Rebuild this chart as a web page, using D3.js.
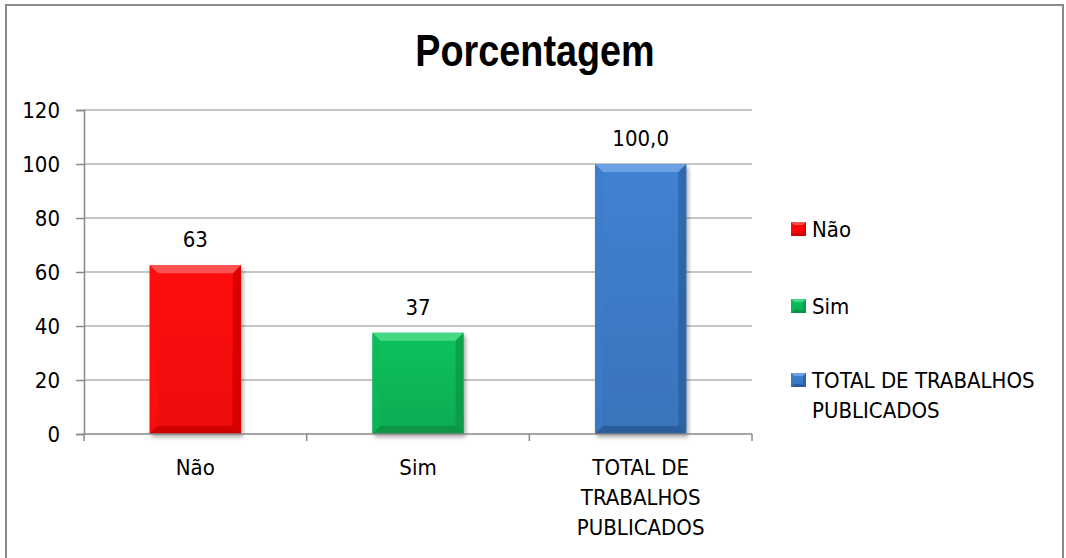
<!DOCTYPE html>
<html>
<head>
  <meta charset="utf-8">
  <script src="https://d3js.org/d3.v7.min.js"></script>
  <style>
    body { margin: 0; background: white; }
    text { font-family: "DejaVu Sans Condensed", "DejaVu Sans", sans-serif; fill: #000; }
  </style>
</head>
<body>
  <svg id="chart" width="1066" height="558"></svg>

  <script>
    // data
    const categories = ["Não", "Sim", "TOTAL DE TRABALHOS PUBLICADOS"];
    const values = [62.5, 37.5, 100];
    const valueLabels = ["63", "37", "100,0"];
    const axisLabelLines = [["Não"], ["Sim"], ["TOTAL DE", "TRABALHOS", "PUBLICADOS"]];
    const legendLines = [["Não"], ["Sim"], ["TOTAL DE TRABALHOS", "PUBLICADOS"]];
    const yTicks = [0, 20, 40, 60, 80, 100, 120];

    const colors = [
      { base: "#ff0808", light: "#ff6060", dark: "#c00000" },
      { base: "#0cb858", light: "#52dc8c", dark: "#078a3f" },
      { base: "#3d7bc8", light: "#74a8e8", dark: "#24548f" }
    ];

    const svg = d3.select("svg#chart");
    const plot = { left: 84, right: 752, top: 110, bottom: 434 };

    // outer frame
    svg.append("rect")
      .attr("x", 6).attr("y", 5)
      .attr("width", 1057).attr("height", 620)
      .attr("fill", "white")
      .attr("stroke", "#8a8a8a")
      .attr("stroke-width", 2);

    // title (narrow bold look)
    svg.append("text")
      .attr("transform", "translate(535,66) scale(0.84,1)")
      .attr("text-anchor", "middle")
      .style("font-family", '"Liberation Sans", Arial, sans-serif')
      .style("font-weight", "bold")
      .style("font-size", "45px")
      .text("Porcentagem");

    const y = d3.scaleLinear().domain([0, 120]).range([plot.bottom, plot.top]);
    const x = d3.scaleBand().domain(categories).range([plot.left, plot.right]).paddingInner(0).paddingOuter(0);
    const barW = x.bandwidth() * 0.41;

    // gridlines
    svg.append("g").selectAll("line")
      .data(yTicks.filter(t => t > 0))
      .join("line")
      .attr("x1", plot.left).attr("x2", plot.right)
      .attr("y1", d => y(d)).attr("y2", d => y(d))
      .attr("stroke", "#8c8c8c").attr("stroke-width", 1);

    // y axis
    const yAxis = d3.axisLeft(y).tickValues(yTicks).tickSize(8).tickPadding(16);
    const gy = svg.append("g").attr("transform", `translate(${plot.left},0)`).call(yAxis);
    gy.select(".domain").attr("stroke", "#888").attr("stroke-width", 1.5);
    gy.selectAll(".tick line").attr("stroke", "#888").attr("stroke-width", 1.5);
    gy.selectAll(".tick text")
      .style("font-family", '"DejaVu Sans Condensed", sans-serif')
      .style("font-size", "22px").attr("fill", "#000");

    // defs: gradients + shadow
    const defs = svg.append("defs");
    const shadow = defs.append("filter").attr("id", "shadow")
      .attr("x", "-10%").attr("y", "-10%").attr("width", "130%").attr("height", "130%");
    shadow.append("feGaussianBlur").attr("in", "SourceAlpha").attr("stdDeviation", 2);
    shadow.append("feOffset").attr("dx", 2).attr("dy", 3).attr("result", "off");
    shadow.append("feComponentTransfer").append("feFuncA").attr("type", "linear").attr("slope", 0.35);
    const merge = shadow.append("feMerge");
    merge.append("feMergeNode");
    merge.append("feMergeNode").attr("in", "SourceGraphic");

    colors.forEach((c, i) => {
      const g = defs.append("linearGradient").attr("id", "grad" + i)
        .attr("x1", 0).attr("y1", 0).attr("x2", 0).attr("y2", 1);
      g.append("stop").attr("offset", "0%").attr("stop-color", d3.color(c.base).brighter(0.15));
      g.append("stop").attr("offset", "100%").attr("stop-color", d3.color(c.base).darker(0.2));
    });

    // bevelled box
    function bevelBox(g, x0, y0, w, h, c, i, b) {
      g.append("rect").attr("x", x0).attr("y", y0).attr("width", w).attr("height", h)
        .attr("fill", `url(#grad${i})`);
      // top bevel
      g.append("path").attr("d", `M${x0},${y0}H${x0 + w}L${x0 + w - b},${y0 + b}H${x0 + b}Z`)
        .attr("fill", c.light).attr("opacity", 0.85);
      // left bevel
      g.append("path").attr("d", `M${x0},${y0}L${x0 + b},${y0 + b}V${y0 + h - b}L${x0},${y0 + h}Z`)
        .attr("fill", c.base).attr("opacity", 0.6);
      // right bevel
      g.append("path").attr("d", `M${x0 + w},${y0}L${x0 + w - b},${y0 + b}V${y0 + h - b}L${x0 + w},${y0 + h}Z`)
        .attr("fill", c.dark).attr("opacity", 0.55);
      // bottom bevel
      g.append("path").attr("d", `M${x0},${y0 + h}L${x0 + b},${y0 + h - b}H${x0 + w - b}L${x0 + w},${y0 + h}Z`)
        .attr("fill", c.dark).attr("opacity", 0.7);
    }

    // bars
    categories.forEach((cat, i) => {
      const cx = x(cat) + x.bandwidth() / 2;
      const g = svg.append("g").attr("filter", "url(#shadow)");
      bevelBox(g, cx - barW / 2, y(values[i]), barW, y(0) - y(values[i]), colors[i], i, 8);

      svg.append("text")
        .attr("x", cx).attr("y", y(values[i]) - 18)
        .attr("text-anchor", "middle")
        .style("font-size", "22px")
        .text(valueLabels[i]);
    });

    // x axis
    svg.append("line")
      .attr("x1", plot.left).attr("x2", plot.right)
      .attr("y1", y(0)).attr("y2", y(0))
      .attr("stroke", "#888").attr("stroke-width", 1.5);
    const bounds = categories.map(c => x(c)).concat([plot.right]);
    svg.append("g").selectAll("line")
      .data(bounds)
      .join("line")
      .attr("x1", d => d).attr("x2", d => d)
      .attr("y1", y(0)).attr("y2", y(0) + 7)
      .attr("stroke", "#888").attr("stroke-width", 1.5);

    axisLabelLines.forEach((lines, i) => {
      const t = svg.append("text")
        .attr("text-anchor", "middle")
        .style("font-size", "22px");
      lines.forEach((ln, j) => {
        t.append("tspan")
          .attr("x", x(categories[i]) + x.bandwidth() / 2)
          .attr("y", 475 + j * 30)
          .text(ln);
      });
    });

    // legend
    const legendY = [229, 306, 380];
    legendLines.forEach((lines, i) => {
      const g = svg.append("g");
      bevelBox(g, 791, legendY[i] - 7, 15, 14, colors[i], i, 3);
      const t = svg.append("text").style("font-size", "22px");
      lines.forEach((ln, j) => {
        t.append("tspan")
          .attr("x", 812)
          .attr("y", legendY[i] + 8 + j * 30)
          .text(ln);
      });
    });
  </script>
</body>
</html>
